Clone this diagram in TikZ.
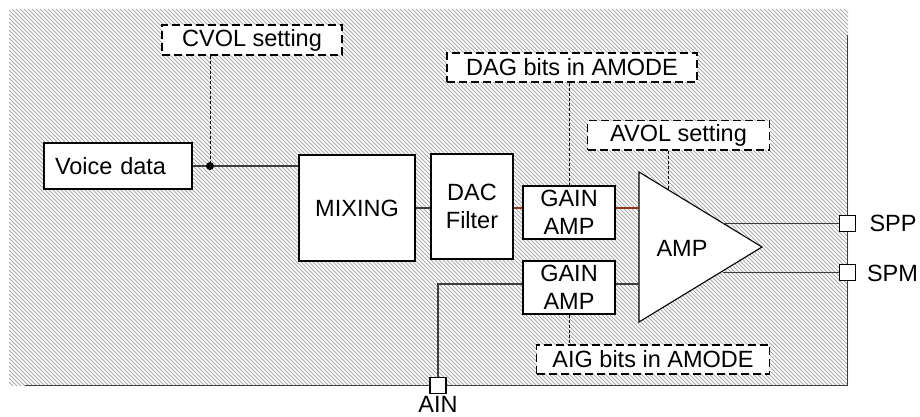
\documentclass[tikz,border=0pt]{standalone}
\usepackage{fontspec}
\setmainfont{Liberation Sans}
\definecolor{hatchgray}{RGB}{170,170,170}
\definecolor{wirebrown}{RGB}{140,55,35}
\definecolor{wiregray}{RGB}{60,60,60}
\begin{document}
\begin{tikzpicture}[x=1pt,y=-1pt,
  every node/.style={font=\fontsize{23.5}{28}\selectfont},
  blk/.style={draw=black, line width=1.4pt, fill=white, inner sep=0pt, align=center},
  setbox/.style={draw=black, line width=1.4pt, dash pattern=on 8pt off 4pt, fill=white, inner sep=0pt},
  wire/.style={draw=wiregray, line width=1.1pt},
  bwire/.style={draw=wirebrown, line width=1.1pt},
  ctl/.style={draw=black, line width=0.9pt, dash pattern=on 3pt off 2pt},
  pin/.style={draw=black, line width=1.1pt, fill=white, minimum size=16pt, inner sep=0pt},
  pinlabel/.style={inner sep=0pt},
  hatch/.style={draw=hatchgray, line width=0.75pt}]
\useasboundingbox (0,0) rectangle (920,417);
\fill[white] (0,0) rectangle (920,417);
% hatched area
\begin{scope}
  \clip (9,10) rectangle (848,385);
  \foreach \k in {-372,-368,...,852} \draw[hatch] (\k,5) -- ++(390,390);
\end{scope}
% border lines
\coordinate (bl) at (25,385.5);
\coordinate (br) at (847.5,385.5);
\coordinate (tr) at (847.5,35);
\draw[wire] (bl) -- (br) -- (tr);
% blocks
\node[blk, text width=126pt, align=left, inner xsep=11pt, minimum height=46pt] (voice) at (118,166) {Voice data};
\node[blk, minimum width=116pt, minimum height=106pt] (mix) at (357,208) {MIXING};
\node[blk, minimum width=82pt, minimum height=105pt] (dac) at (472,206.5) {DAC\\Filter};
\node[blk, minimum width=92pt, minimum height=53pt] (gain1) at (569,212.5) {GAIN\\AMP};
\node[blk, minimum width=92pt, minimum height=53pt] (gain2) at (569,287.5) {GAIN\\AMP};
% amplifier triangle
\coordinate (ampA) at (639,172);
\coordinate (ampB) at (639,322);
\coordinate (ampC) at (762,247);
\filldraw[fill=white, draw=black, line width=1.1pt] (ampA) -- (ampC) -- (ampB) -- cycle;
\node (amp) at (682,248) {AMP};
% setting boxes
\node[setbox, minimum width=180pt, minimum height=30pt] (cvol) at (252,40) {CVOL setting};
\node[setbox, minimum width=250pt, minimum height=29pt] (dag) at (572,67.5) {DAG bits in AMODE};
\node[setbox, minimum width=182pt, minimum height=29pt] (avol) at (678.5,135.3) {AVOL setting};
\node[setbox, minimum width=233pt, minimum height=29pt] (aig) at (653,359.5) {AIG bits in AMODE};
% pins
\node[pin] (spp) at (847.5,223.5) {};
\node[pin] (spm) at (847.5,272.5) {};
\node[pin] (ain) at (438,385.5) {};
\node[pinlabel] (spplabel) at (893,223) {SPP};
\node[pinlabel] (spmlabel) at (892.5,273.5) {SPM};
\node[pinlabel] (ainlabel) at (438,404) {AIN};
% helper coordinates
\coordinate (y1) at (0,208);
\coordinate (y2) at (0,284);
\coordinate (tap) at (210,166);
\coordinate (out1) at (723,223.5);
\coordinate (out2) at (723,272.5);
\coordinate (avolin) at (668,189.7);
% wires
\draw[wire] (voice.east) -- (mix.west |- voice.east);
\fill[black] (tap) circle (4pt);
\draw[wire] (mix.east) -- (dac.west |- mix.east);
\draw[bwire] (dac.east |- y1) -- (gain1.west |- y1);
\draw[bwire] (gain1.east |- y1) -- (ampA |- y1);
\draw[wire] (gain2.east |- y2) -- (ampA |- y2);
\draw[wire] (ain.north) |- (gain2.west |- y2);
\draw[wire] (out1) -- (spp.west);
\draw[wire] (out2) -- (spm.west);
% control lines
\draw[ctl] (cvol.south -| tap) -- (tap);
\draw[ctl] (dag.south -| gain1.north) -- (gain1.north);
\draw[ctl] (avol.south -| avolin) -- (avolin);
\draw[ctl] (gain2.south) -- (aig.north -| gain2.south);
\end{tikzpicture}
\end{document}
